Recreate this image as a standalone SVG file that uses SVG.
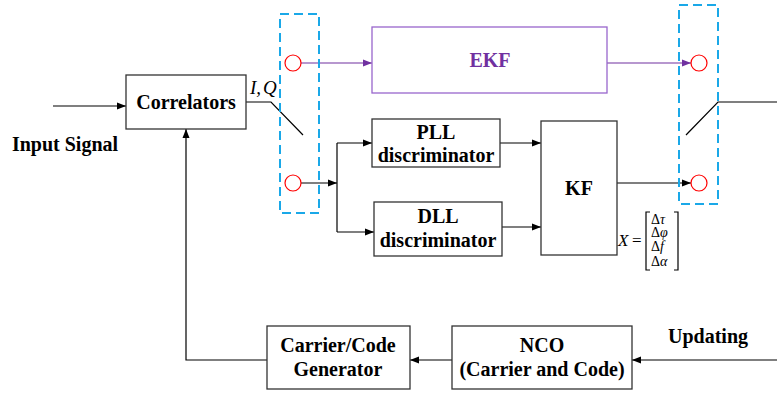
<svg xmlns="http://www.w3.org/2000/svg" width="777" height="393" viewBox="0 0 777 393">
<defs>
<marker id="ah" markerWidth="10" markerHeight="8" refX="9" refY="4" orient="auto" markerUnits="userSpaceOnUse"><path d="M0,0.5 L9,4 L0,7.5 Z" fill="#000"/></marker>
<marker id="ahp" markerWidth="10" markerHeight="8" refX="9" refY="4" orient="auto" markerUnits="userSpaceOnUse"><path d="M0,0.5 L9,4 L0,7.5 Z" fill="#7030A0"/></marker>
</defs>
<style>
.box{fill:#fff;stroke:#333;stroke-width:1.3}
.t{font-family:"Liberation Serif","Times New Roman",serif;font-weight:bold;font-size:20px;fill:#000;text-anchor:middle}
.ln{fill:none;stroke:#000;stroke-width:1.2}
.lp{fill:none;stroke:#7030A0;stroke-width:1.2}
.dash{fill:none;stroke:#1AA8E8;stroke-width:2;stroke-dasharray:9,5}
.sw{fill:#fff;stroke:#FF0000;stroke-width:1.2}
.m{font-family:"Liberation Serif","Times New Roman",serif;font-size:14px;fill:#000}
.mx{font-family:"Liberation Serif","Times New Roman",serif;font-size:17px;fill:#000}
</style>
<rect width="777" height="393" fill="#fff"/>

<g id="connectors">
<line class="ln" x1="53" y1="106" x2="126" y2="106" marker-end="url(#ah)"/>
<polyline class="ln" points="246,102 271,102 303,135"/>
<line class="lp" x1="301" y1="63" x2="372" y2="63" marker-end="url(#ahp)"/>
<line class="lp" x1="607" y1="63" x2="691" y2="63" marker-end="url(#ahp)"/>
<line class="ln" x1="301" y1="183" x2="337" y2="183" marker-end="url(#ah)"/>
<line class="ln" x1="337" y1="143" x2="337" y2="232"/>
<line class="ln" x1="337" y1="143" x2="372" y2="143" marker-end="url(#ah)"/>
<line class="ln" x1="337" y1="232" x2="374" y2="232" marker-end="url(#ah)"/>
<line class="ln" x1="500" y1="143" x2="541" y2="143" marker-end="url(#ah)"/>
<line class="ln" x1="502" y1="227" x2="541" y2="227" marker-end="url(#ah)"/>
<line class="ln" x1="617" y1="183" x2="691" y2="183" marker-end="url(#ah)"/>
<polyline class="ln" points="686,135 718,102 777,102"/>
<line class="ln" x1="777" y1="360" x2="632" y2="360" marker-end="url(#ah)"/>
<line class="ln" x1="452" y1="360" x2="410" y2="360" marker-end="url(#ah)"/>
<polyline class="ln" points="267,360 186,360 186,129" marker-end="url(#ah)"/>
</g>

<g id="input-label"><text class="t" x="65" y="151">Input Signal</text></g>

<g id="correlators">
<rect class="box" x="126" y="75" width="120" height="54"/>
<text class="t" x="186" y="109">Correlators</text>
</g>
<g id="iq-label"><text x="250" y="94" font-family="Liberation Serif,serif" font-style="italic" font-size="19">I,<tspan dx="2">Q</tspan></text></g>

<g id="switch-left">
<rect class="dash" x="280" y="14" width="39" height="199"/>
<circle class="sw" cx="293" cy="63" r="8"/>
<circle class="sw" cx="293" cy="183" r="8"/>
</g>

<g id="ekf">
<rect x="372" y="27" width="235" height="66" fill="#fff" stroke="#9966CC" stroke-width="1.3"/>
<text class="t" x="490" y="67" style="fill:#7030A0">EKF</text>
</g>

<g id="pll">
<rect class="box" x="372" y="119" width="128" height="48"/>
<text class="t" x="436" y="139">PLL</text>
<text class="t" x="436" y="162">discriminator</text>
</g>

<g id="dll">
<rect class="box" x="374" y="202" width="128" height="54"/>
<text class="t" x="438" y="223">DLL</text>
<text class="t" x="438" y="247">discriminator</text>
</g>

<g id="kf">
<rect class="box" x="541" y="121" width="76" height="134"/>
<text class="t" x="579" y="195">KF</text>
</g>

<g id="state-vector">
<text class="mx" x="618" y="246" font-style="italic">X</text>
<text class="mx" x="632" y="246">=</text>
<path class="ln" d="M650,212 H646 V270 H650 M674,212 H678 V270 H674" stroke-width="1"/>
<text class="m" x="651" y="224">Δ<tspan font-style="italic">τ</tspan></text>
<text class="m" x="651" y="237">Δ<tspan font-style="italic">φ</tspan></text>
<text class="m" x="651" y="251">Δ<tspan font-style="italic">f</tspan></text>
<text class="m" x="651" y="266">Δ<tspan font-style="italic">α</tspan></text>
</g>

<g id="switch-right">
<rect class="dash" x="679" y="5" width="39" height="199"/>
<circle class="sw" cx="699" cy="63" r="8"/>
<circle class="sw" cx="699" cy="183" r="8"/>
</g>

<g id="generator">
<rect class="box" x="267" y="326" width="143" height="63"/>
<text class="t" x="338" y="352">Carrier/Code</text>
<text class="t" x="338" y="376">Generator</text>
</g>

<g id="nco">
<rect class="box" x="452" y="326" width="180" height="63"/>
<text class="t" x="542" y="352">NCO</text>
<text class="t" x="542" y="376">(Carrier and Code)</text>
</g>

<g id="updating-label"><text class="t" x="708" y="343">Updating</text></g>
</svg>
